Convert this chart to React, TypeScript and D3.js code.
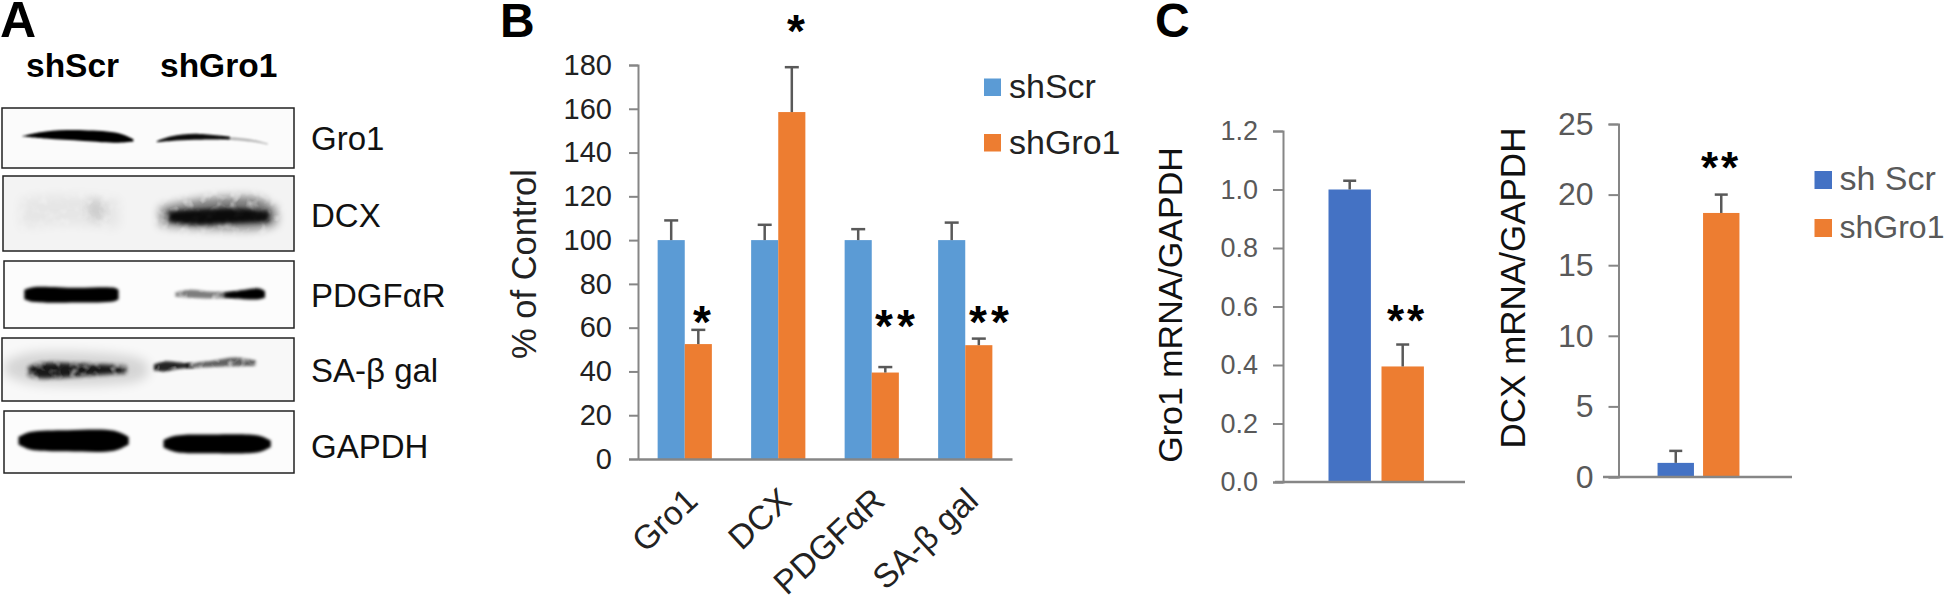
import { useEffect, useRef } from 'react';
import * as d3 from 'd3';

// Panel A - western blot strips
const blotNames = ['Gro1', 'DCX', 'PDGFαR', 'SA-β gal', 'GAPDH'];
const blotLanes = ['shScr', 'shGro1'];

// band outlines in percent of the strip: [x, centre, half height]
type Band = { strip: number; opacity: number; blur: number; grain?: boolean; points: number[][] };
const blotBands: Band[] = [
  { strip: 0, opacity: 1, blur: 0.8, points: [[7, 47, 0.5], [15, 45, 6], [28, 46, 9], [40, 50, 8], [45, 54, 2]] },
  { strip: 0, opacity: 0.95, blur: 0.8, points: [[53, 56, 1], [58, 51, 4], [66, 48, 5], [78, 50, 2]] },
  { strip: 0, opacity: 0.3, blur: 1.2, points: [[75, 50, 2], [85, 54, 2], [91, 60, 1]] },
  { strip: 1, opacity: 0.5, blur: 5, grain: true, points: [[54, 54, 12], [70, 50, 20], [88, 50, 20], [94, 54, 10]] },
  { strip: 1, opacity: 0.9, blur: 2.2, points: [[57, 54, 7], [65, 55, 10], [80, 53, 10], [91.5, 54, 7]] },
  { strip: 1, opacity: 0.1, blur: 4, grain: true, points: [[29, 44, 8], [32, 45, 16], [35, 48, 8]] },
  { strip: 1, opacity: 0.05, blur: 6, grain: true, points: [[6, 50, 20], [20, 45, 20], [40, 50, 20]] },
  { strip: 2, opacity: 1, blur: 1.4, points: [[7, 50, 7], [10, 50, 11], [25, 51, 11], [38, 50, 10], [39.5, 50, 7]] },
  { strip: 2, opacity: 0.5, blur: 1.6, grain: true, points: [[59, 50, 3], [64, 49, 6], [72, 51, 5], [80, 50, 5]] },
  { strip: 2, opacity: 1, blur: 1.4, points: [[76, 51, 3], [83, 50, 7], [88, 49, 8], [90, 50, 5]] },
  { strip: 3, opacity: 0.88, blur: 2, grain: true, points: [[9, 53, 7], [13, 52, 12], [24, 51, 11], [36, 50, 8], [42.5, 50, 6]] },
  { strip: 3, opacity: 0.14, blur: 6, points: [[1, 48, 10], [10, 48, 24], [45, 50, 20], [50, 50, 10]] },
  { strip: 3, opacity: 0.85, blur: 1.6, grain: true, points: [[52, 47, 5], [56, 45, 8], [61, 44, 5], [66, 44, 3]] },
  { strip: 3, opacity: 0.6, blur: 1.6, grain: true, points: [[63, 44, 4], [72, 41, 5], [80, 38, 7], [87, 40, 4]] },
  { strip: 4, opacity: 1, blur: 1.8, points: [[5, 48, 6], [9, 48, 14], [22, 48, 17], [38, 48, 16], [43, 48, 6]] },
  { strip: 4, opacity: 1, blur: 1.8, points: [[55, 53, 6], [59, 53, 13], [72, 53, 15], [88, 53, 13], [92, 53, 5]] },
];

// Panel B
const markers = ['Gro1', 'DCX', 'PDGFαR', 'SA-β gal'];
const groups = ['shScr', 'shGro1'];
const scrValues = [100, 100, 100, 100];
const scrErrTop = [109, 107, 105, 108];
const groValues = [52.5, 158.5, 39.5, 52];
const groErrTop = [59, 179, 42, 55];
const bStars = ['*', '*', '**', '**'];
const bTicks = [0, 20, 40, 60, 80, 100, 120, 140, 160, 180];

// Panel C
const conditions = ['sh Scr', 'shGro1'];
const gro1Mrna = [1.0, 0.395];
const gro1MrnaErrTop = [1.03, 0.47];
const gro1Ticks = [0, 0.2, 0.4, 0.6, 0.8, 1.0, 1.2];
const dcxMrna = [1, 18.7];
const dcxMrnaErrTop = [1.85, 20];
const dcxTicks = [0, 5, 10, 15, 20, 25];

const FONT = '"Liberation Sans", Arial, sans-serif';
const BLUE_B = '#5b9bd5';
const BLUE_C = '#4472c4';
const ORANGE = '#ed7d31';
const AXIS = '#868686';
const ERR = '#595959';

type Sel = d3.Selection<any, any, any, any>;

const label = (g: Sel, x: number, y: number, text: string, size: number, opts: any = {}) =>
  g.append('text')
    .attr('x', x)
    .attr('y', y)
    .attr('font-family', FONT)
    .attr('font-size', size)
    .attr('font-weight', opts.weight || 'normal')
    .attr('fill', opts.fill || '#111')
    .attr('text-anchor', opts.anchor || 'start')
    .attr('letter-spacing', opts.spacing || null)
    .attr('transform', opts.rotate ? `rotate(${opts.rotate},${x},${y})` : null)
    .text(text);

const yAxis = (g: Sel, scale: d3.ScaleLinear<number, number>, ticks: number[], x: number, fmt: (v: number) => string, size: number, tickLen: number, pad: number, color: string) => {
  const ax = g.append('g')
    .attr('transform', `translate(${x},0)`)
    .call(d3.axisLeft(scale).tickValues(ticks).tickFormat(fmt as any).tickSize(tickLen).tickPadding(pad));
  ax.selectAll('path,line').attr('stroke', AXIS).attr('stroke-width', 2);
  ax.selectAll('text')
    .attr('font-family', FONT)
    .attr('font-size', size)
    .attr('fill', color);
};

const errorBar = (g: Sel, x: number, y0: number, y1: number, cap: number) => {
  g.append('line').attr('x1', x).attr('x2', x).attr('y1', y0).attr('y2', y1)
    .attr('stroke', ERR).attr('stroke-width', 2.5);
  g.append('line').attr('x1', x - cap / 2).attr('x2', x + cap / 2).attr('y1', y1).attr('y2', y1)
    .attr('stroke', ERR).attr('stroke-width', 2.5);
};

const filterId = (b: Band) => `blur${String(b.blur).replace('.', '_')}${b.grain ? 'g' : ''}`;

const drawPanelA = (svg: Sel) => {
  const strips = [
    { x: 2, y: 108, w: 292, h: 60, bg: '#fbfbfb', base: 150 },
    { x: 3, y: 176, w: 291, h: 75, bg: '#f3f3f3', base: 227 },
    { x: 4, y: 261, w: 290, h: 67, bg: '#fcfcfc', base: 307 },
    { x: 2, y: 338, w: 292, h: 63, bg: '#f8f8f8', base: 382 },
    { x: 4, y: 411, w: 290, h: 62, bg: '#fcfcfc', base: 458 },
  ];
  const defs = svg.append('defs');
  blotBands.forEach((b) => {
    const id = filterId(b);
    if (!defs.select(`#${id}`).empty()) return;
    const f = defs.append('filter')
      .attr('id', id)
      .attr('x', '-30%').attr('y', '-100%').attr('width', '160%').attr('height', '300%');
    f.append('feGaussianBlur').attr('stdDeviation', b.blur).attr('result', 'soft');
    if (b.grain) {
      // mottled film look for the weaker bands
      f.append('feTurbulence').attr('type', 'fractalNoise').attr('baseFrequency', 0.1).attr('numOctaves', 2).attr('seed', 4);
      f.append('feColorMatrix').attr('values', '0 0 0 0 0  0 0 0 0 0  0 0 0 0 0  1.6 0 0 0 0.15').attr('result', 'noise');
      f.append('feComposite').attr('in', 'soft').attr('in2', 'noise').attr('operator', 'in');
    }
  });

  label(svg, 0, 37, 'A', 50, { weight: 'bold', fill: '#000' });
  label(svg, 26, 77, blotLanes[0], 33.5, { weight: 'bold', fill: '#000' });
  label(svg, 160, 77, blotLanes[1], 33.5, { weight: 'bold', fill: '#000' });

  strips.forEach((s, i) => {
    const px = d3.scaleLinear().domain([0, 100]).range([s.x, s.x + s.w]);
    const py = d3.scaleLinear().domain([0, 100]).range([s.y, s.y + s.h]);
    defs.append('clipPath').attr('id', `strip${i}`)
      .append('rect').attr('x', s.x).attr('y', s.y).attr('width', s.w).attr('height', s.h);
    svg.append('rect').attr('x', s.x).attr('y', s.y).attr('width', s.w).attr('height', s.h)
      .attr('fill', s.bg);
    const area = d3.area<number[]>()
      .x((d) => px(d[0]))
      .y0((d) => py(d[1] - d[2]))
      .y1((d) => py(d[1] + d[2]))
      .curve(d3.curveCatmullRom);
    const layer = svg.append('g').attr('clip-path', `url(#strip${i})`);
    blotBands.filter((b) => b.strip === i).forEach((b) => {
      layer.append('path')
        .attr('d', area(b.points) as string)
        .attr('fill', '#000')
        .attr('opacity', b.opacity)
        .attr('filter', `url(#${filterId(b)})`);
    });
    svg.append('rect').attr('x', s.x).attr('y', s.y).attr('width', s.w).attr('height', s.h)
      .attr('fill', 'none').attr('stroke', '#222').attr('stroke-width', 1.5);
    label(svg, 311, s.base, blotNames[i], 33, { fill: '#111' });
  });
};

const drawPanelB = (svg: Sel) => {
  const x0 = d3.scaleBand().domain(markers).range([638, 1012]).paddingInner(0.42).paddingOuter(0.21);
  const x1 = d3.scaleBand().domain(groups).range([0, x0.bandwidth()]);
  const y = d3.scaleLinear().domain([0, 180]).range([459, 65]);

  label(svg, 500, 37, 'B', 48, { weight: 'bold', fill: '#000' });

  markers.forEach((m, i) => {
    const xs = x0(m)! + x1('shScr')!;
    const xg = x0(m)! + x1('shGro1')!;
    const w = x1.bandwidth();
    svg.append('rect').attr('x', xs).attr('y', y(scrValues[i])).attr('width', w).attr('height', y(0) - y(scrValues[i])).attr('fill', BLUE_B);
    svg.append('rect').attr('x', xg).attr('y', y(groValues[i])).attr('width', w).attr('height', y(0) - y(groValues[i])).attr('fill', ORANGE);
    errorBar(svg, xs + w / 2, y(scrValues[i]), y(scrErrTop[i]), 14);
    errorBar(svg, xg + w / 2, y(groValues[i]), y(groErrTop[i]), 14);
    label(svg, x0(m)! + x0.bandwidth() / 2 + 15, 503, m, 33.5, { rotate: -43, anchor: 'end', fill: '#222' });
  });

  const starBase = [338, 47, 342, 338];
  const starX = [702, 796, 897, 991];
  bStars.forEach((s, i) => {
    label(svg, starX[i], starBase[i], s, 46, { anchor: 'middle', weight: 'bold', fill: '#000', spacing: s.length > 1 ? '4px' : null });
  });

  yAxis(svg, y, bTicks, 638, d3.format('d'), 29, 9, 17, '#222');
  const base = svg.append('g').attr('transform', `translate(0,${y(0)})`)
    .call(d3.axisBottom(x0).tickValues([]).tickSize(0).tickSizeOuter(0));
  base.select('path').attr('stroke', AXIS).attr('stroke-width', 2.5);

  label(svg, 536, 264, '% of Control', 34.5, { rotate: -90, anchor: 'middle', fill: '#222' });

  groups.forEach((g, i) => {
    const yy = d3.scalePoint().domain(groups).range([78.5, 134]);
    svg.append('rect').attr('x', 984).attr('y', yy(g)!).attr('width', 17).attr('height', 17.5).attr('fill', i ? ORANGE : BLUE_B);
    label(svg, 1009, yy(g)! + 19.5, g, 34, { fill: '#222' });
  });
};

const drawSmallChart = (svg: Sel, values: number[], errTop: number[], ticks: number[], opts: any) => {
  const x = d3.scaleBand().domain(conditions).range(opts.bars).paddingInner(0.2).paddingOuter(0.1);
  const y = d3.scaleLinear().domain([0, ticks[ticks.length - 1]]).range(opts.yRange);

  conditions.forEach((c, i) => {
    svg.append('rect').attr('x', x(c)!).attr('y', y(values[i])).attr('width', x.bandwidth())
      .attr('height', y(0) - y(values[i])).attr('fill', i ? ORANGE : BLUE_C);
    errorBar(svg, x(c)! + x.bandwidth() / 2, y(values[i]), y(errTop[i]), 13);
  });

  yAxis(svg, y, ticks, opts.axisX, opts.fmt, opts.tickSize, 10, 15, '#595959');
  svg.append('line').attr('x1', opts.baseFrom).attr('x2', opts.baseTo).attr('y1', y(0)).attr('y2', y(0))
    .attr('stroke', AXIS).attr('stroke-width', 2.5);

  label(svg, opts.titleX, opts.titleY, opts.title, opts.titleSize, { rotate: -90, anchor: 'middle', fill: '#111' });
  label(svg, opts.starX, opts.starY, '**', 44, { anchor: 'middle', weight: 'bold', fill: '#000', spacing: '3px' });
};

const drawPanelC = (svg: Sel) => {
  label(svg, 1155, 37, 'C', 48, { weight: 'bold', fill: '#000' });

  drawSmallChart(svg, gro1Mrna, gro1MrnaErrTop, gro1Ticks, {
    bars: [1323.2, 1429.2], yRange: [482, 131], axisX: 1283, fmt: d3.format('.1f'), tickSize: 27,
    baseFrom: 1275, baseTo: 1465, title: 'Gro1 mRNA/GAPDH', titleX: 1182, titleY: 305, titleSize: 34,
    starX: 1407, starY: 336,
  });
  drawSmallChart(svg, dcxMrna, dcxMrnaErrTop, dcxTicks, {
    bars: [1653, 1744], yRange: [477, 124], axisX: 1618.5, fmt: d3.format('d'), tickSize: 32,
    baseFrom: 1603, baseTo: 1792, title: 'DCX mRNA/GAPDH', titleX: 1525, titleY: 288, titleSize: 35,
    starX: 1721, starY: 183,
  });

  conditions.forEach((c, i) => {
    const yy = d3.scalePoint().domain(conditions).range([171, 219]);
    svg.append('rect').attr('x', 1814.5).attr('y', yy(c)!).attr('width', 17.5).attr('height', 18).attr('fill', i ? ORANGE : BLUE_C);
    label(svg, 1839.5, yy(c)! + 19, c, i ? 32 : 34, { fill: '#595959' });
  });
};

export default function App() {
  const ref = useRef<SVGSVGElement>(null);

  useEffect(() => {
    if (!ref.current) return;
    const svg = d3.select(ref.current);
    svg.selectAll('*').remove();
    drawPanelA(svg);
    drawPanelB(svg);
    drawPanelC(svg);
  }, []);

  return (
    <svg
      ref={ref}
      width={1945}
      height={600}
      viewBox="0 0 1945 600"
      style={{ position: 'absolute', left: 0, top: 0, background: '#fff' }}
    />
  );
}
